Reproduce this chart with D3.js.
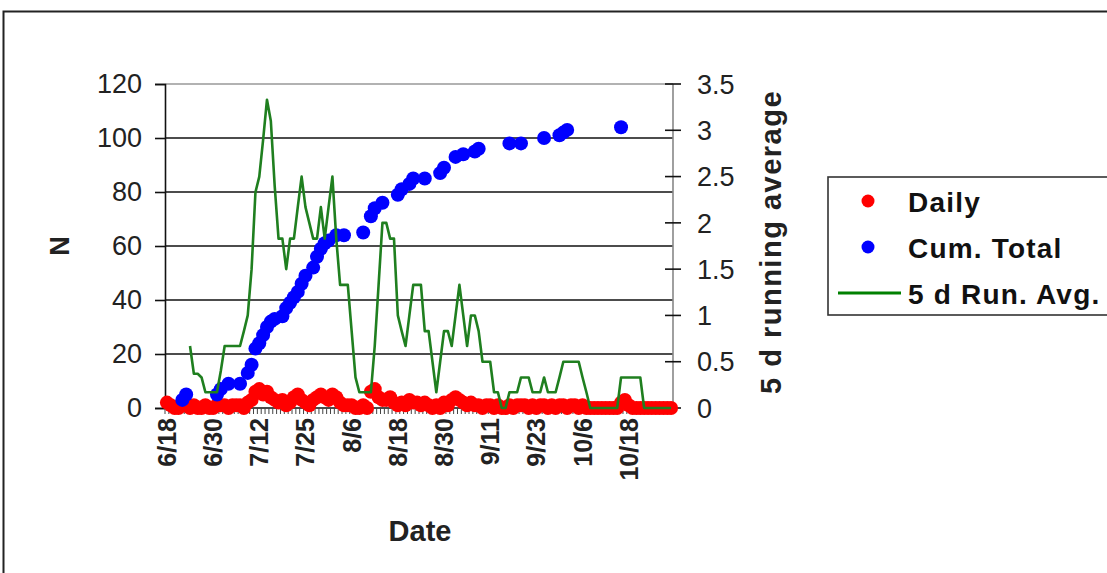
<!DOCTYPE html>
<html><head><meta charset="utf-8">
<script src="https://cdn.jsdelivr.net/npm/d3@7"></script>
<style>
body{margin:0;background:#fff}
svg{display:block}
text{font-family:"Liberation Sans",Arial,Helvetica,sans-serif}
</style>
</head><body>
<svg id="c" width="1107" height="573"></svg>
<script>
// ---- data ----
const dateLabels = ["6/18","6/30","7/12","7/25","8/6","8/18","8/30","9/11","9/23","10/6","10/18"];
const dateLabelIdx = [0,12,24,36,48,60,72,84,96,108,120];
const categoryCount = 132;

const dailyValues = [
 2,1,0,0,1,1,0,1,0,0,
 1,0,0,1,1,1,0,1,1,1,
 0,2,3,6,7,5,6,4,3,2,
 3,1,2,4,5,3,2,1,3,4,
 5,4,3,5,4,2,1,1,1,0,
 0,1,0,6,7,4,3,3,4,2,
 1,2,1,3,2,2,1,2,1,0,
 1,0,2,1,3,4,3,2,1,2,
 1,1,0,1,1,0,1,0,0,1,
 0,1,1,1,0,1,0,1,1,0,
 1,0,1,1,0,1,1,0,1,0,
 0,0,0,0,0,0,0,0,2,3,
 1,0,0,0,0,0,0,0,0,0,0,0];

const cumIdx = [4,5,13,14,16,19,21,22,23,24,25,26,27,28,30,31,32,33,34,35,36,38,39,40,41,42,44,46,51,53,54,56,60,61,63,64,67,71,72,75,77,80,81,89,92,98,102,103,104,118];
const cumValues = [3,5,5,7,9,9,13,16,22,24,27,30,32,33,34,37,39,41,43,46,49,52,56,59,61,62,64,64,65,71,74,76,79,81,83,85,85,87,89,93,94,95,96,98,98,100,101,102,103,104];

const runStart = 6;
const runValues = [
 0.67,0.37,0.37,0.33,
 0.17,0.17,0.17,0.17,0.4,0.67,0.67,0.67,0.67,0.67,
 0.83,1.0,1.5,2.33,2.5,2.9,3.33,3.1,2.4,1.83,
 1.83,1.5,1.83,1.83,2.17,2.5,2.17,2.0,1.83,1.83,
 2.17,1.83,2.17,2.5,1.83,1.33,1.33,1.33,0.83,0.33,
 0.17,0.17,0.17,0.17,0.67,1.33,2.0,2.0,1.83,1.83,
 1.0,0.83,0.67,1.0,1.33,1.33,1.33,0.83,0.83,0.5,
 0.17,0.5,0.83,0.83,0.67,1.0,1.33,1.0,0.67,1.0,
 1.0,0.83,0.5,0.5,0.5,0.17,0.17,0,0,0.17,
 0.17,0.17,0.33,0.33,0.33,0.17,0.17,0.17,0.33,0.17,
 0.17,0.17,0.33,0.5,0.5,0.5,0.5,0.5,0.33,0.17,
 0,0,0,0,0,0,0,0,0.33,0.33,
 0.33,0.33,0.33,0.33,0,0,0,0,0,0,0,0];

const leftTicks = [0,20,40,60,80,100,120];
const rightTicks = [0,0.5,1,1.5,2,2.5,3,3.5];
const legendItems = ["Daily","Cum. Total","5 d Run. Avg."];

// ---- layout ----
const svg = d3.select("#c");
const L = 165, R = 673, T = 84, B = 408;
const font = '"Liberation Sans",Arial,Helvetica,sans-serif';

const x = d3.scaleLinear().domain([-0.5, categoryCount - 0.5]).range([L, R]);
const yL = d3.scaleLinear().domain([0, 120]).range([B, T]);
const yR = d3.scaleLinear().domain([0, 3.5]).range([B, T]);

// outer frame
svg.append("rect").attr("x",3.5).attr("y",11.5).attr("width",1200).attr("height",700)
  .attr("fill","none").attr("stroke","#222").attr("stroke-width",2);

// plot top border
svg.append("line").attr("x1",L).attr("x2",R).attr("y1",T).attr("y2",T)
  .attr("stroke","#999").attr("stroke-width",1.5);

// gridlines
svg.append("g").selectAll("line").data(leftTicks.filter(d=>d>0 && d<120)).join("line")
  .attr("x1",L).attr("x2",R).attr("y1",d=>yL(d)).attr("y2",d=>yL(d))
  .attr("stroke","#111").attr("stroke-width",1.6);

// left axis
const gl = svg.append("g").attr("transform",`translate(${L},0)`)
  .call(d3.axisLeft(yL).tickValues(leftTicks).tickSize(10).tickPadding(13));
gl.select(".domain").attr("stroke","#111").attr("stroke-width",1.6);
gl.selectAll(".tick line").attr("stroke","#111").attr("stroke-width",1.6);
gl.selectAll(".tick text").attr("font-family",font).attr("font-size",27).attr("fill","#222");

// right axis (ticks cross the axis line)
svg.append("line").attr("x1",R).attr("x2",R).attr("y1",T).attr("y2",B)
  .attr("stroke","#888").attr("stroke-width",1.6);
svg.append("g").selectAll("line").data(rightTicks).join("line")
  .attr("x1",R-8).attr("x2",R+8).attr("y1",d=>yR(d)).attr("y2",d=>yR(d))
  .attr("stroke","#111").attr("stroke-width",1.6);
svg.append("g").selectAll("text").data(rightTicks).join("text")
  .attr("x",R+24).attr("y",d=>yR(d)).attr("dy","0.36em")
  .attr("font-size",27).attr("fill","#222").text(d=>d3.format("")(d));

// bottom axis
svg.append("line").attr("x1",L).attr("x2",R).attr("y1",B).attr("y2",B)
  .attr("stroke","#111").attr("stroke-width",1.6);
svg.append("g").selectAll("line").data(d3.range(categoryCount+1)).join("line")
  .attr("x1",d=>x(d-0.5)).attr("x2",d=>x(d-0.5)).attr("y1",B).attr("y2",B+6)
  .attr("stroke","#444").attr("stroke-width",1);
svg.append("g").selectAll("text").data(dateLabels).join("text")
  .attr("transform",(d,i)=>`translate(${x(dateLabelIdx[i])},${B+10}) rotate(-90)`)
  .attr("text-anchor","end").attr("dy","0.36em")
  .attr("font-size",25).attr("font-weight","bold").attr("fill","#222").text(d=>d);

// axis titles
svg.append("text").attr("x",420).attr("y",541).attr("text-anchor","middle")
  .attr("font-size",29).attr("font-weight","bold").attr("fill","#222").text("Date");
svg.append("text").attr("transform","translate(69,246) rotate(-90)").attr("text-anchor","middle")
  .attr("font-size",27).attr("font-weight","bold").attr("fill","#222").text("N");
svg.append("text").attr("transform","translate(781,242) rotate(-90)").attr("text-anchor","middle")
  .attr("font-size",29).attr("letter-spacing",1.5).attr("font-weight","bold").attr("fill","#222").text("5 d running average");

// series
const plot = svg.append("g");
plot.selectAll("circle.daily").data(dailyValues).join("circle").attr("class","daily")
  .attr("cx",(d,i)=>x(i)).attr("cy",d=>yL(d)).attr("r",7).attr("fill","#ff0000");
plot.selectAll("circle.cum").data(cumValues).join("circle").attr("class","cum")
  .attr("cx",(d,i)=>x(cumIdx[i])).attr("cy",d=>yL(d)).attr("r",7).attr("fill","#0000ff");
const line = d3.line().x((d,i)=>x(runStart+i)).y(d=>yR(d));
plot.append("path").datum(runValues).attr("d",line)
  .attr("fill","none").attr("stroke","#1f7f1f").attr("stroke-width",2.6).attr("stroke-linejoin","round");

// legend
const lg = svg.append("g");
lg.append("rect").attr("x",828).attr("y",177).attr("width",400).attr("height",138)
  .attr("fill","#fff").attr("stroke","#333").attr("stroke-width",1.6);
lg.append("circle").attr("cx",868).attr("cy",201).attr("r",6.5).attr("fill","#ff0000");
lg.append("circle").attr("cx",868).attr("cy",247).attr("r",6.5).attr("fill","#0000ff");
lg.append("line").attr("x1",838).attr("x2",901).attr("y1",293).attr("y2",293)
  .attr("stroke","#008000").attr("stroke-width",3);
lg.selectAll("text").data(legendItems).join("text")
  .attr("x",908).attr("y",(d,i)=>212+i*46)
  .attr("font-size",28).attr("letter-spacing",1.2).attr("font-weight","bold").attr("fill","#111").text(d=>d);
</script>
</body></html>
